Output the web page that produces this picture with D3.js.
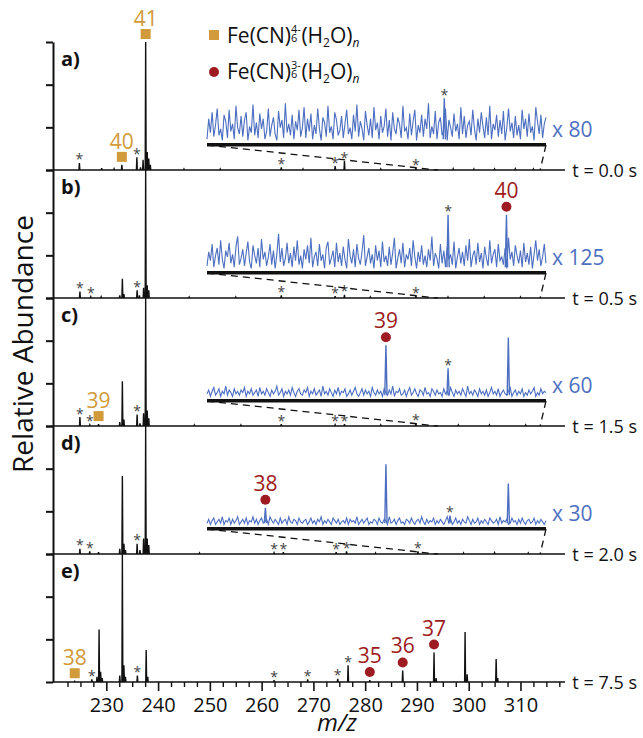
<!DOCTYPE html>
<html><head><meta charset="utf-8">
<script src="https://cdn.jsdelivr.net/npm/d3@7"></script>
<style>body{margin:0;background:#fff} text{font-family:"Open Sans",sans-serif}</style>
</head><body><svg id="chart" width="643" height="738"></svg>
<script>
// ---------------- data ----------------
const panelLabels = ["a)","b)","c)","d)","e)"];
const timeLabels = ["t = 0.0 s","t = 0.5 s","t = 1.5 s","t = 2.0 s","t = 7.5 s"];
const magLabels = ["x 80","x 125","x 60","x 30",null];
const xDomain = [219.7, 318.6];
const xMajorTicks = [230,240,250,260,270,280,290,300,310];
const xMinorTicks = [222.5,225,227.5,232.5,235,237.5,242.5,245,247.5,252.5,255,257.5,262.5,265,267.5,272.5,275,277.5,282.5,285,287.5,292.5,295,297.5,302.5,305,307.5,312.5,315,317.5];
const yTicks = [0, 33.33, 66.67, 100];

// main spectra: [m/z, relative abundance %]
const specA = [[224.8,5.5],[229.1,1.5],[231.5,1],[233.0,4],[235.9,10],[236.6,2],[237.1,8],[237.6,100],[237.9,14],[238.2,9],[238.5,4],[245.0,0.8],[252.0,0.8],[263.8,2],[268.0,0.8],[274.2,3],[276.0,7],[283.0,0.8],[289.8,1.5],[297.0,1],[301.0,0.8],[305.0,0.8],[309.0,1],[312.5,0.8]];
const specB = [[224.9,5],[227.0,1],[229.0,1],[232.6,2],[233.1,15],[233.4,3],[235.95,6],[236.4,2],[237.2,8],[237.6,100],[237.9,10],[238.2,6],[246,0.8],[255,0.8],[263.8,2],[274.2,1.5],[276.0,2.5],[281,0.8],[289.8,1.5],[296,0.8],[303,0.8],[310,0.8]];
const specC = [[224.9,7],[226.8,1],[228.5,1.5],[232.6,3],[233.1,35],[233.4,5],[235.95,9],[236.5,2],[237.2,10],[237.6,100],[237.9,12],[238.2,6],[247,0.8],[256,0.8],[263.8,1.5],[274.2,1],[276.0,1.5],[283,0.8],[289.8,2],[298,0.8],[304,0.8],[311,0.8]];
const specD = [[224.9,4],[226.8,2],[228.5,1.5],[232.6,4],[233.1,61],[233.4,8],[233.7,3],[235.95,8],[236.5,3],[237.2,12],[237.6,100],[237.9,12],[238.2,7],[248,0.8],[262.4,1],[264.2,1.5],[274.4,1.5],[276.4,2],[282,0.8],[290.2,2],[299,0.8],[305,1],[311.5,0.8]];
const specE = [[223.9,0.6],[227.2,2],[228.2,4],[228.6,41],[228.9,8],[229.2,3],[232.6,5],[233.1,100],[233.4,13],[233.7,4],[236.0,5],[237.7,25],[238.0,4],[262.4,1.5],[268.9,2],[274.7,2.5],[276.7,13],[280.9,1.5],[287.25,9],[293.3,23],[293.7,3],[299.3,39],[299.7,6],[305.3,18],[305.6,3]];

// asterisk-marked peaks (m/z)
const starsA = [224.8,235.9,263.8,274.2,276.0,289.8];
const starsB = [224.9,227.0,235.95,263.8,274.2,276.0,289.8];
const starsC = [224.9,226.8,235.95,263.8,274.2,276.0,289.8];
const starsD = [224.9,226.8,235.95,262.4,264.2,274.4,276.4,290.2];
const starsE = [227.2,236.0,262.4,268.9,274.7,276.7];

// magnified insets
const zoomWindow = [294.0, 313.8];
const insetDomain = [295.5, 313.5];
const noiseA = [3,19,8,24,5,14,27,6,11,2,22,17,4,26,9,15,3,29,12,7,
21,5,18,24,2,13,8,30,6,16,4,23,11,19,3,9,27,5,14,20,
7,2,25,12,18,4,31,8,15,6,22,3,17,10,26,5,12,28,4,19,
9,23,3,14,7,27,11,2,20,16,5,29,8,13,3,24,18,6,10,21,
4,15,26,7,12,3,22,9,30,5,17,11,2,25,14,6,19,4,28,10,
16,3,21,8,13,27,5,18,2,24,11,7,20,15,4,29,9,12,3,23,
6,17,26,2,14,8,22,5,19,11,31,4,13,7,25,3,16,20,6,10,
27,2,18,12,5,23,9,15,3,28,7,21,4,14,17,6,26,11,2,19,
8,24,13,4,20,6,29,3,15,10,22,5,18,7,25,2,12,27,9,16,
4,21,6,14,3,26,11,19,5,23,8,13,2,28,17,7,22,4,15,20];
const noiseB = [4,15,8,21,3,12,18,5,24,9,2,16,11,22,6,13,3,19,27,5,
10,17,4,14,23,7,2,20,12,6,18,3,25,9,15,4,11,21,5,16,
2,13,29,7,18,4,10,22,6,14,3,19,8,24,5,12,2,17,9,20,
6,26,3,11,15,4,21,8,13,2,18,23,5,10,16,3,22,7,14,4,
19,9,2,25,12,6,17,3,21,10,5,15,28,4,11,18,6,13,2,20,
8,16,3,23,7,12,4,19,5,14,26,2,10,17,6,22,3,13,9,18,
4,24,11,2,15,7,20,5,12,3,17,8,27,4,14,10,2,21,6,16,
3,19,9,13,5,23,2,11,18,6,15,4,20,8,25,3,12,16,5,22,
7,14,2,19,10,4,24,6,13,17,3,21,8,11,5,18,2,26,9,15,
4,20,12,6,16,3,22,7,14,5,19,2,13,24,8,17,4,11,21,6];
const noiseC = [4,7,2,6,9,3,5,8,2,6,4,10,3,7,5,2,8,4,6,3,
7,5,9,2,6,4,8,3,5,7,2,9,4,6,3,8,5,2,7,4,
6,10,3,5,8,2,6,4,7,3,9,5,2,6,8,4,3,7,5,9,
2,6,4,8,3,5,7,2,10,4,6,3,8,5,2,7,4,9,3,6,
5,8,2,4,7,3,6,9,4,2,5,8,3,7,4,6,2,9,5,3,
7,4,6,2,8,5,3,7,4,10,2,6,5,8,3,4,7,2,6,9,
3,5,8,4,2,7,6,3,9,4,5,2,8,6,3,7,4,5,2,8,
4,6,3,9,5,2,7,4,6,3,8,5,2,10,4,6,3,7,5,2,
8,4,6,3,7,2,5,9,4,6,3,8,2,5,7,4,3,6,9,2,
5,7,3,6,4,8,2,5,3,7,4,6,9,2,5,3,8,4,6,5];
const noiseD = [3,6,2,5,7,2,4,6,3,8,2,5,4,7,2,6,3,5,8,2,
4,6,3,7,2,5,4,8,3,6,2,5,7,3,4,6,2,8,5,3,
6,4,2,7,3,5,6,2,8,4,3,6,5,2,7,4,3,5,6,2,
4,7,3,5,2,6,4,8,2,5,3,6,4,2,7,5,3,6,2,4,
5,3,7,2,6,4,5,3,8,2,4,6,3,5,7,2,4,3,6,5,
2,7,4,3,6,5,2,8,3,4,6,2,5,7,3,4,2,6,5,3,
7,4,2,5,6,3,8,4,2,6,3,5,4,7,2,5,3,6,4,2,
5,8,3,6,2,4,7,3,5,2,6,4,3,8,5,2,6,3,4,7,
2,5,3,6,4,2,7,5,3,4,6,2,8,3,5,4,6,2,3,7,
4,5,2,6,3,7,4,2,5,6,3,4,7,2,5,3,6,4,2,5];
const insetPeaksA = [[308.1,35]];
const insetPeaksB = [[308.3,44],[311.4,44]];
const insetPeaksC = [[305.0,42],[308.3,24],[311.5,48]];
const insetPeaksD = [[298.6,15],[305.0,49],[308.4,9],[311.5,34]];
const insetStarsA = [308.1];
const insetStarsB = [308.3];
const insetStarsC = [308.3];
const insetStarsD = [308.4];

// cluster markers: [panel, m/z, n, where]
const goldMarkers = [[0,237.6,"41"],[0,233.0,"40"],[2,228.5,"39"],[4,223.9,"38"]];
const redMarkers = [[1,311.4,"40","inset"],[2,305.0,"39","inset"],[3,298.6,"38","inset"],[4,280.9,"35","main"],[4,287.25,"36","main"],[4,293.3,"37","main"]];

// ---------------- drawing ----------------
const GOLD="#D19A3A", RED="#9E1B22", BLUE="#4D6FC1";
const svg = d3.select("#chart");
const spectra=[specA,specB,specC,specD,specE];
const stars=[starsA,starsB,starsC,starsD,starsE];
const noises=[noiseA,noiseB,noiseC,noiseD];
const insetPeaks=[insetPeaksA,insetPeaksB,insetPeaksC,insetPeaksD];
const insetStars=[insetStarsA,insetStarsB,insetStarsC,insetStarsD];

const x = d3.scaleLinear().domain(xDomain).range([53,565]);
const top0 = 42, ph = 128;
const xi = d3.scaleLinear().domain(insetDomain).range([207,546]);

function stickPoints(peaks, dom, w){
  const pts=[[dom[0],0]];
  peaks.slice().sort((a,b)=>a[0]-b[0]).forEach(([m,h])=>{pts.push([m-w,0],[m,h],[m+w,0]);});
  pts.push([dom[1],0]);
  return pts;
}
function lookup(peaks,m){ let best=null; peaks.forEach(p=>{ if(best===null||Math.abs(p[0]-m)<Math.abs(best[0]-m)) best=p;}); return best?best[1]:0; }

const panelY=[], insetY=[];
for(let i=0;i<5;i++){
  const base = top0 + ph*(i+1);
  const y = d3.scaleLinear().domain([0,100]).range([base, base-ph]);
  panelY.push(y);
  const g = svg.append("g");
  g.append("g").attr("transform","translate(53,0)")
    .call(d3.axisLeft(y).tickValues(yTicks).tickSize(7).tickSizeOuter(0).tickFormat(""))
    .call(a=>{a.selectAll("path,line").attr("stroke","#111").attr("stroke-width",2);});
  const line = d3.line().x(d=>x(d[0])).y(d=>y(d[1]));
  g.append("path").attr("d",line(stickPoints(spectra[i],xDomain,0.09)))
    .attr("fill","none").attr("stroke","#111").attr("stroke-width",1.4);
  stars[i].forEach(m=>{
    const h=lookup(spectra[i],m);
    g.append("text").attr("x",x(m)).attr("y",y(h)+1.5).attr("text-anchor","middle")
      .attr("font-size",14).attr("fill","#444").text("*");
  });
  g.append("text").attr("x",61).attr("y",base-ph+24).attr("font-size",20).attr("font-weight","bold").attr("fill","#111").text(panelLabels[i]);
  g.append("text").attr("x",637).attr("y",base+7).attr("text-anchor","end").attr("font-size",18).attr("fill","#111").text(timeLabels[i]);

  if(i<4){
    const ib = base-27;
    const yi = d3.scaleLinear().domain([0,100]).range([ib, ib-ph]);
    insetY.push(yi);
    const dash = g.append("g").attr("stroke","#111").attr("stroke-width",1.3).attr("stroke-dasharray","7,5");
    dash.append("line").attr("x1",xi(insetDomain[0])).attr("y1",ib+2).attr("x2",x(zoomWindow[0])).attr("y2",base);
    dash.append("line").attr("x1",xi(insetDomain[1])).attr("y1",ib+2).attr("x2",x(zoomWindow[1])).attr("y2",base);
    const nz = noises[i];
    const idx = d3.scaleLinear().domain([0,nz.length-1]).range(insetDomain);
    const nl = d3.line().x(d=>xi(d[0])).y(d=>yi(d[1]));
    g.append("path").attr("d",nl(nz.map((v,k)=>[idx(k),v])))
      .attr("fill","none").attr("stroke",BLUE).attr("stroke-width",1.1);
    insetPeaks[i].forEach(([m,h])=>{
      g.append("path").attr("d",nl([[m-0.06,3],[m,h],[m+0.06,3]]))
        .attr("fill","none").attr("stroke",BLUE).attr("stroke-width",1.4);
    });
    g.append("line").attr("x1",xi(insetDomain[0])).attr("x2",xi(insetDomain[1])).attr("y1",ib+1.7).attr("y2",ib+1.7)
      .attr("stroke","#111").attr("stroke-width",3.5);
    insetStars[i].forEach(m=>{
      g.append("text").attr("x",xi(m)).attr("y",yi(lookup(insetPeaks[i],m))+1.5).attr("text-anchor","middle")
        .attr("font-size",14).attr("fill","#444").text("*");
    });
    g.append("text").attr("x",552).attr("y",ib-6).attr("font-size",21).attr("fill",BLUE).text(magLabels[i]);
  }
}

goldMarkers.forEach(([p,m,n])=>{
  const y=panelY[p], top=y(lookup(spectra[p],m));
  const cy=top-8;
  svg.append("rect").attr("x",x(m)-5).attr("y",cy-5).attr("width",10).attr("height",10).attr("fill",GOLD);
  svg.append("text").attr("x",x(m)).attr("y",cy-8).attr("text-anchor","middle").attr("font-size",21).attr("fill",GOLD).text(n);
});
redMarkers.forEach(([p,m,n,where])=>{
  let px, top;
  if(where==="inset"){ px=xi(m); top=insetY[p](lookup(insetPeaks[p],m)); }
  else { px=x(m); top=panelY[p](lookup(spectra[p],m)); }
  const cy=top-8;
  svg.append("circle").attr("cx",px).attr("cy",cy).attr("r",5).attr("fill",RED);
  svg.append("text").attr("x",px).attr("y",cy-9).attr("text-anchor","middle").attr("font-size",21).attr("fill",RED).text(n);
});

const xb = top0+ph*5;
svg.append("g").attr("transform",`translate(0,${xb})`)
  .call(d3.axisBottom(x).tickValues(xMinorTicks).tickSize(5).tickFormat(""))
  .call(a=>{a.select(".domain").remove(); a.selectAll("line").attr("stroke","#111").attr("stroke-width",1.4);});
svg.append("g").attr("transform",`translate(0,${xb})`)
  .call(d3.axisBottom(x).tickValues(xMajorTicks).tickSize(9).tickPadding(7).tickFormat(d3.format("d")))
  .call(a=>{a.select(".domain").remove(); a.selectAll("line").attr("stroke","#111").attr("stroke-width",1.6);
    a.selectAll("text").attr("font-size",20).attr("fill","#111").attr("font-family","Open Sans");});
svg.append("text").attr("x",337).attr("y",731).attr("text-anchor","middle").attr("font-size",24).attr("font-style","italic").attr("fill","#111").text("m/z");
svg.append("text").attr("transform","translate(33,344) rotate(-90)").attr("text-anchor","middle").attr("font-size",28).attr("fill","#111").text("Relative Abundance");

// legend (single text element with stacked scripts)
function legendEntry(yb, sup){
  const t=svg.append("text").attr("x",227).attr("y",yb).attr("font-size",21).attr("fill","#111");
  t.append("tspan").text("Fe(CN)");
  const s1=t.append("tspan").attr("font-size",11).attr("dy",-10).text(sup);
  const w1=s1.node().getComputedTextLength();
  const s2=t.append("tspan").attr("font-size",11).attr("dx",-w1).attr("dy",9).text("6");
  const w2=s2.node().getComputedTextLength();
  t.append("tspan").attr("dx",Math.max(0,w1-w2)+0.5).attr("dy",1).text("(H");
  t.append("tspan").attr("font-size",12).attr("dy",4).text("2");
  t.append("tspan").attr("dy",-4).text("O)");
  t.append("tspan").attr("font-size",12).attr("dy",4).attr("font-style","italic").text("n");
}
legendEntry(43,"4-");
legendEntry(79,"3-");
svg.append("rect").attr("x",209).attr("y",30).attr("width",10).attr("height",10).attr("fill",GOLD);
svg.append("circle").attr("cx",214).attr("cy",72).attr("r",5).attr("fill",RED);
</script></body></html>
